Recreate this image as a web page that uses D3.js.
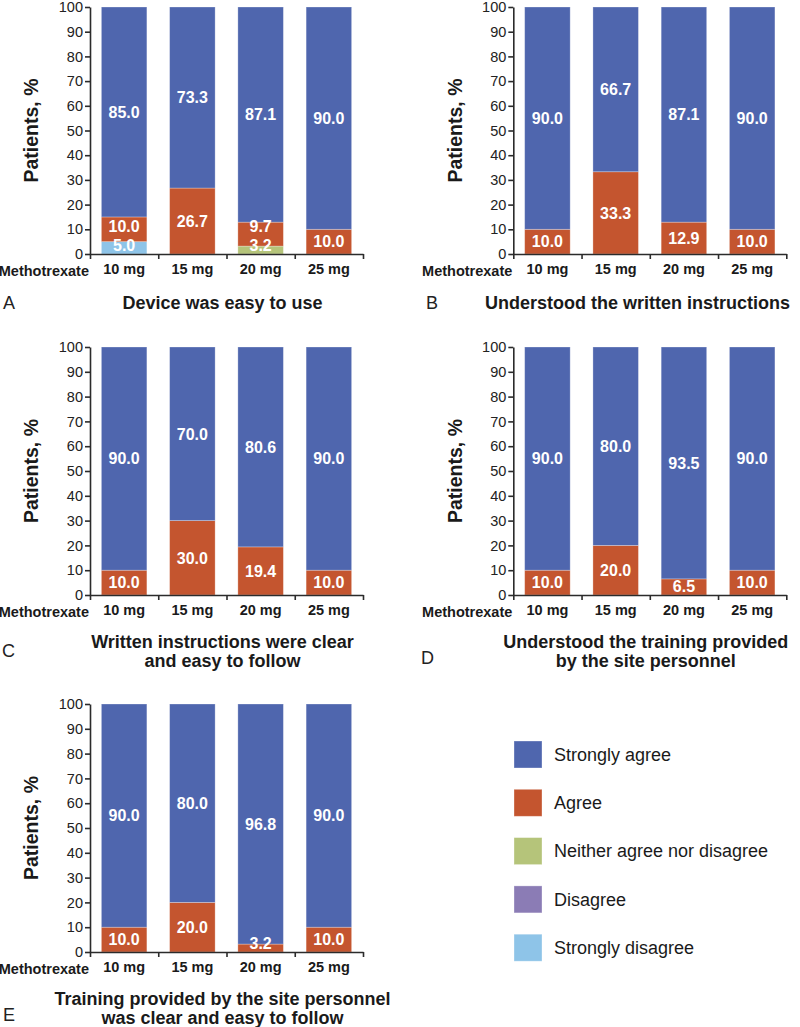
<!DOCTYPE html>
<html>
<head>
<meta charset="utf-8">
<script src="https://cdn.jsdelivr.net/npm/d3@7"></script>
<style>
  html, body { margin: 0; padding: 0; background: #fff; }
  svg { display: block; font-family: "Liberation Sans", Arial, Helvetica, sans-serif; }
</style>
</head>
<body>
<script>
// ---------------- data ----------------
const categories = ["10 mg", "15 mg", "20 mg", "25 mg"];
const responses = ["Strongly agree", "Agree", "Neither agree nor disagree", "Disagree", "Strongly disagree"];
const responseColors = ["#4F66AE", "#C4552F", "#B5C47A", "#8B7CB5", "#8EC4E8"];
const yTicks = [0, 10, 20, 30, 40, 50, 60, 70, 80, 90, 100];
const xAxisPrefix = "Methotrexate";
const yAxisTitle = "Patients, %";
const panelLetters = ["A", "B", "C", "D", "E"];
const panelTitles = [
  ["Device was easy to use"],
  ["Understood the written instructions"],
  ["Written instructions were clear", "and easy to follow"],
  ["Understood the training provided", "by the site personnel"],
  ["Training provided by the site personnel", "was clear and easy to follow"]
];
// one row per panel (A..E), one value per dose
const stronglyAgree = [
  [85.0, 73.3, 87.1, 90.0],
  [90.0, 66.7, 87.1, 90.0],
  [90.0, 70.0, 80.6, 90.0],
  [90.0, 80.0, 93.5, 90.0],
  [90.0, 80.0, 96.8, 90.0]
];
const agree = [
  [10.0, 26.7, 9.7, 10.0],
  [10.0, 33.3, 12.9, 10.0],
  [10.0, 30.0, 19.4, 10.0],
  [10.0, 20.0, 6.5, 10.0],
  [10.0, 20.0, 3.2, 10.0]
];
const neitherAgree = [
  [0, 0, 3.2, 0],
  [0, 0, 0, 0],
  [0, 0, 0, 0],
  [0, 0, 0, 0],
  [0, 0, 0, 0]
];
const disagree = [
  [0, 0, 0, 0],
  [0, 0, 0, 0],
  [0, 0, 0, 0],
  [0, 0, 0, 0],
  [0, 0, 0, 0]
];
const stronglyDisagree = [
  [5.0, 0, 0, 0],
  [0, 0, 0, 0],
  [0, 0, 0, 0],
  [0, 0, 0, 0],
  [0, 0, 0, 0]
];

// ---------------- layout ----------------
const W = 800, H = 1027;
const plotW = 273, plotH = 248;
const panelOrigins = [
  { x: 90, y: 7 }, { x: 513.3, y: 7 },
  { x: 90, y: 347 }, { x: 513.3, y: 347 },
  { x: 90, y: 704 }
];
const letterPos = [
  { x: 3, y: 309 }, { x: 426, y: 309 },
  { x: 2, y: 657 }, { x: 421, y: 664 },
  { x: 3, y: 1021 }
];
const AXIS = "#2b2b2b", TEXT = "#1a1a1a";

const svg = d3.select("body").append("svg").attr("width", W).attr("height", H);

// stacking keys bottom-up
const keys = ["sd", "d", "n", "a", "sa"];
const keyColor = { sa: responseColors[0], a: responseColors[1], n: responseColors[2], d: responseColors[3], sd: responseColors[4] };

panelOrigins.forEach((o, p) => {
  const g = svg.append("g").attr("transform", `translate(${o.x},${o.y})`);
  const rows = categories.map((c, i) => ({
    cat: c,
    sd: stronglyDisagree[p][i], d: disagree[p][i], n: neitherAgree[p][i],
    a: agree[p][i], sa: stronglyAgree[p][i]
  }));
  const series = d3.stack().keys(keys)(rows);
  const pH = plotH - (o.y === 7 ? 1 : 0);

  const x = d3.scaleBand().domain(categories).range([0, plotW])
    .paddingInner(1 / 3).paddingOuter(1 / 6);
  const y = d3.scaleLinear().domain([0, 100]).range([pH, 0]);

  // bars
  series.forEach(s => {
    g.append("g").selectAll("rect").data(s.filter(d => d[1] - d[0] > 0)).join("rect")
      .attr("x", d => x(d.data.cat))
      .attr("width", x.bandwidth())
      .attr("y", d => y(d[1]))
      .attr("height", d => Math.max(0, y(d[0]) - y(d[1])))
      .attr("fill", keyColor[s.key])
      .attr("stroke", "#ffffff").attr("stroke-opacity", 0.35).attr("stroke-width", 0.8);
  });

  // value labels, bottom-up with overlap avoidance
  categories.forEach((c, i) => {
    let prevY = null;
    series.forEach(s => {
      const d = s[i];
      const v = d[1] - d[0];
      if (v <= 0) return;
      let ly = Math.min(y((d[0] + d[1]) / 2), y(0) - 8.5);
      if (prevY !== null && ly > prevY - 19) ly = prevY - 19;
      prevY = ly;
      g.append("text")
        .attr("x", x(c) + x.bandwidth() / 2).attr("y", ly).attr("dy", "0.36em")
        .attr("text-anchor", "middle").attr("fill", "#fff")
        .attr("font-weight", "bold").attr("font-size", 16)
        .text(v.toFixed(1));
    });
  });

  // y axis
  const ya = g.append("g").call(d3.axisLeft(y).tickValues(yTicks).tickSize(5).tickSizeOuter(0).tickPadding(2));
  ya.select(".domain").attr("stroke", AXIS).attr("stroke-width", 1.6);
  ya.selectAll(".tick line").attr("stroke", AXIS).attr("stroke-width", 1.6);
  ya.selectAll(".tick text").attr("fill", "#222").attr("font-size", 14.5)
    .attr("font-family", "'Liberation Sans', Arial, sans-serif");

  // x axis line with boundary ticks
  const xb = d3.scaleLinear().domain([0, categories.length]).range([0, plotW]);
  const xa = g.append("g").attr("transform", `translate(0,${pH})`)
    .call(d3.axisBottom(xb).tickValues(d3.range(categories.length + 1)).tickFormat("").tickSize(5).tickSizeOuter(0));
  xa.select(".domain").attr("stroke", AXIS).attr("stroke-width", 1.6);
  xa.selectAll(".tick line").attr("stroke", AXIS).attr("stroke-width", 1.6);

  // category labels
  const xl = g.append("g").attr("transform", `translate(0,${pH})`)
    .call(d3.axisBottom(x).tickSize(0).tickPadding(10));
  xl.select(".domain").remove();
  xl.selectAll(".tick text").attr("fill", TEXT).attr("font-size", 14.5).attr("font-weight", "bold")
    .attr("font-family", "'Liberation Sans', Arial, sans-serif");

  g.append("text").attr("x", -1).attr("y", pH + 22)
    .attr("text-anchor", "end").attr("fill", TEXT)
    .attr("font-size", 14.5).attr("font-weight", "bold").text(xAxisPrefix);

  // y axis title
  g.append("text")
    .attr("transform", `translate(${-58.5},${pH / 2}) rotate(-90)`)
    .attr("dy", "0.35em").attr("text-anchor", "middle")
    .attr("fill", TEXT).attr("font-size", 19.5).attr("font-weight", "bold")
    .text(yAxisTitle);

  // panel title
  const lines = panelTitles[p];
  const base = pH + (lines.length === 1 ? 55 : 53);
  const tg = g.append("g");
  lines.forEach((t, k) => {
    tg.append("text").attr("x", plotW / 2 - 4).attr("y", base + k * 18.5)
      .attr("text-anchor", "middle").attr("fill", TEXT)
      .attr("font-size", 18).attr("font-weight", "bold").text(t);
  });
  // keep title inside the page
  tg.selectAll("text").each(function () {
    const bb = this.getBBox();
    const right = o.x + bb.x + bb.width;
    if (right > W - 10) d3.select(this).attr("x", plotW / 2 - 4 - (right - (W - 10)));
  });

  // panel letter
  svg.append("text").attr("x", letterPos[p].x).attr("y", letterPos[p].y)
    .attr("fill", "#222").attr("font-size", 18).text(panelLetters[p]);
});

// legend
const lg = svg.append("g").attr("transform", "translate(514,741)");
responses.forEach((r, i) => {
  const row = lg.append("g").attr("transform", `translate(0,${i * 48.3})`);
  row.append("rect").attr("width", 28).attr("height", 27)
    .attr("fill", responseColors[i])
    .attr("stroke", "#ffffff").attr("stroke-opacity", 0.4).attr("stroke-width", 0.8);
  row.append("text").attr("x", 40).attr("y", 13.5).attr("dy", "0.35em")
    .attr("fill", TEXT).attr("font-size", 18).text(r);
});
</script>
</body>
</html>
